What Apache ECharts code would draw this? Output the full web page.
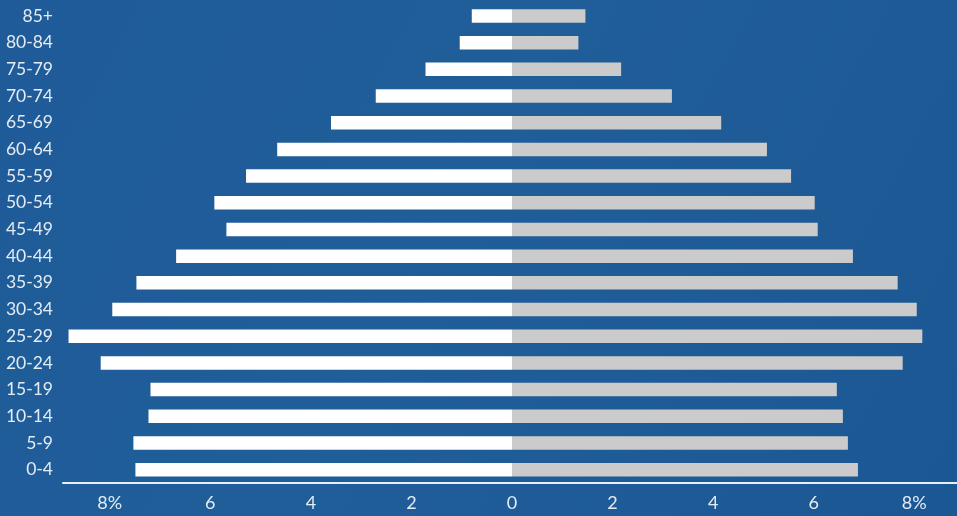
<!DOCTYPE html>
<html>
<head>
<meta charset="utf-8">
<script src="https://cdn.jsdelivr.net/npm/echarts@6/dist/echarts.min.js"></script>
<style>
  html, body { margin: 0; padding: 0; background: #1d5995; }
  #chart { width: 957px; height: 516px; }
</style>
</head>
<body>
<div id="chart"></div>
<script>
// Age groups, youngest at the bottom
const ageGroups = ['0-4', '5-9', '10-14', '15-19', '20-24', '25-29', '30-34', '35-39', '40-44',
  '45-49', '50-54', '55-59', '60-64', '65-69', '70-74', '75-79', '80-84', '85+'];

// Share of population (%) per age group
const leftShare = [7.49, 7.53, 7.23, 7.19, 8.18, 8.82, 7.95, 7.47, 6.68,
  5.68, 5.92, 5.29, 4.67, 3.60, 2.71, 1.72, 1.04, 0.80];
const rightShare = [6.88, 6.68, 6.58, 6.46, 7.77, 8.16, 8.05, 7.67, 6.78,
  6.08, 6.02, 5.55, 5.07, 4.16, 3.18, 2.17, 1.32, 1.46];

// Tick positions on the percentage axis
const tickValues = [-8, -6, -4, -2, 0, 2, 4, 6, 8];

const chart = echarts.init(document.getElementById('chart'), null, { renderer: 'canvas' });

const labelColor = '#e4ebf3';
const fontFamily = 'Lato, "Open Sans", sans-serif';

chart.setOption({
  backgroundColor: {
    type: 'linear', x: 0, y: 0, x2: 1, y2: 1,
    colorStops: [
      { offset: 0, color: '#1e5b98' },
      { offset: 0.45, color: '#205e9a' },
      { offset: 1, color: '#1b5793' }
    ]
  },
  animation: false,
  grid: { left: 63, right: 0, top: 2.65, bottom: 33, containLabel: false },
  xAxis: {
    type: 'value',
    min: -8.93,
    max: 8.85,
    splitLine: { show: false },
    axisTick: { show: false },
    axisLine: { show: true, onZero: false, lineStyle: { color: '#e8eef5', width: 2 } },
    axisLabel: {
      customValues: tickValues,
      color: labelColor,
      fontFamily: fontFamily,
      fontSize: 18,
      margin: 11,
      formatter: function (v) {
        const a = Math.abs(v);
        return a === 8 ? a + '%' : String(a);
      }
    }
  },
  yAxis: {
    type: 'category',
    data: ageGroups,
    axisLine: { show: false },
    axisTick: { show: false },
    splitLine: { show: false },
    axisLabel: {
      color: labelColor,
      fontFamily: fontFamily,
      fontSize: 17.5,
      margin: 10
    }
  },
  series: [
    {
      name: 'left',
      type: 'bar',
      stack: 'pyramid',
      barWidth: 13.5,
      itemStyle: { color: '#ffffff' },
      data: leftShare.map(v => -v)
    },
    {
      name: 'right',
      type: 'bar',
      stack: 'pyramid',
      barWidth: 13.5,
      itemStyle: { color: '#cbcbcb' },
      data: rightShare
    }
  ]
});
</script>
</body>
</html>
